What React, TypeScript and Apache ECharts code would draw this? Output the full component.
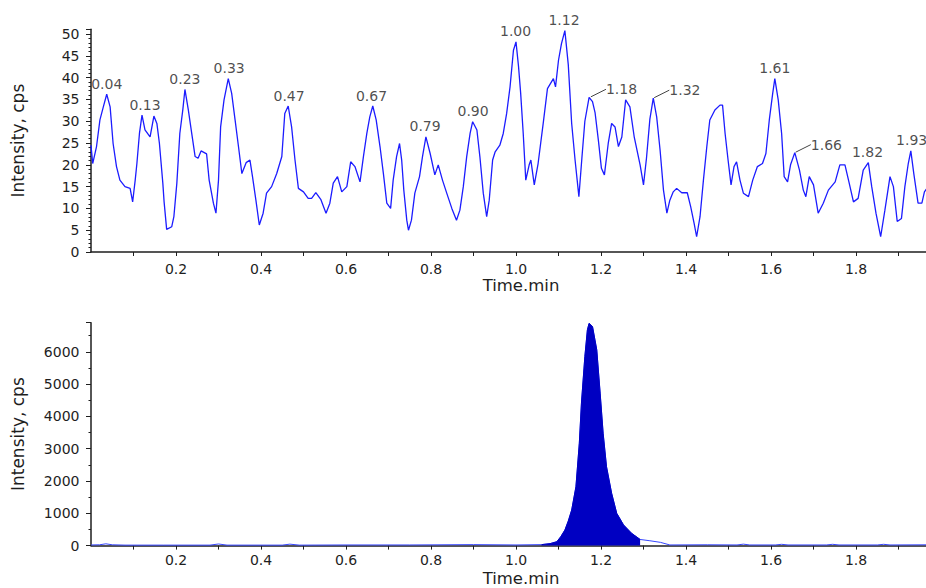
import React, { useEffect, useRef } from "react";
import * as echarts from "echarts";

// ---- Top trace (noise chromatogram) ----
const topTimes = [
  0.0, 0.004, 0.013, 0.021, 0.029, 0.037, 0.045, 0.052, 0.06, 0.068, 0.08, 0.092, 0.098, 0.104, 0.108, 0.114,
  0.12, 0.127, 0.139, 0.148, 0.155, 0.161, 0.169, 0.172, 0.178, 0.19, 0.195, 0.202, 0.209, 0.216, 0.221, 0.229,
  0.237, 0.245, 0.252, 0.259, 0.272, 0.278, 0.288, 0.294, 0.3, 0.305, 0.313, 0.323, 0.331, 0.339, 0.347, 0.355,
  0.365, 0.374, 0.38, 0.388, 0.396, 0.405, 0.413, 0.425, 0.437, 0.449, 0.456, 0.464, 0.472, 0.48, 0.488, 0.5,
  0.511, 0.519, 0.529, 0.541, 0.553, 0.562, 0.57, 0.58, 0.59, 0.602, 0.611, 0.621, 0.633, 0.641, 0.649, 0.656,
  0.663, 0.671, 0.68, 0.688, 0.696, 0.705, 0.711, 0.719, 0.726, 0.731, 0.736, 0.743, 0.747, 0.754, 0.762, 0.773,
  0.78, 0.788, 0.798, 0.809, 0.817, 0.827, 0.837, 0.849, 0.86, 0.868, 0.876, 0.884, 0.892, 0.898, 0.908, 0.915,
  0.923, 0.931, 0.937, 0.945, 0.951, 0.962, 0.97, 0.978, 0.986, 0.994, 1.0, 1.006, 1.011, 1.017, 1.023, 1.031,
  1.035, 1.043, 1.052, 1.064, 1.074, 1.088, 1.093, 1.1, 1.107, 1.115, 1.123, 1.131, 1.139, 1.148, 1.155, 1.162,
  1.172, 1.18, 1.186, 1.194, 1.201, 1.208, 1.217, 1.225, 1.233, 1.241, 1.249, 1.258, 1.268, 1.278, 1.292, 1.3,
  1.307, 1.315, 1.323, 1.331, 1.339, 1.347, 1.355, 1.362, 1.37, 1.378, 1.39, 1.403, 1.411, 1.419, 1.425, 1.433,
  1.441, 1.449, 1.456, 1.468, 1.48, 1.486, 1.492, 1.499, 1.506, 1.513, 1.519, 1.527, 1.535, 1.547, 1.557, 1.568,
  1.58, 1.588, 1.596, 1.604, 1.609, 1.617, 1.625, 1.631, 1.639, 1.646, 1.656, 1.667, 1.676, 1.682, 1.69, 1.7,
  1.711, 1.723, 1.735, 1.751, 1.762, 1.774, 1.784, 1.794, 1.805, 1.817, 1.829, 1.837, 1.847, 1.858, 1.868, 1.88,
  1.888, 1.897, 1.907, 1.915, 1.923, 1.929, 1.936, 1.946, 1.955, 1.961, 1.97,
];
const topValues = [
  24.5, 20.3, 24.2, 30.3, 33.3, 36.2, 33.3, 24.9, 19.6, 16.5, 15.0, 14.6, 11.5, 16.5, 20.3, 27.2,
  31.4, 28.0, 26.4, 31.2, 29.5, 24.9, 15.8, 11.5, 5.2, 5.8, 8.1, 15.8, 27.2, 32.6, 37.3, 32.6,
  27.2, 21.9, 21.5, 23.2, 22.5, 16.5, 11.2, 8.9, 16.5, 28.7, 34.9, 39.8, 36.4, 30.3, 24.2, 18.0,
  20.5, 21.1, 17.3, 11.9, 6.2, 8.9, 13.5, 15.0, 18.0, 21.9, 31.8, 33.5, 28.7, 21.1, 14.6, 13.8,
  12.3, 12.3, 13.6, 12.0, 8.9, 11.2, 15.8, 17.3, 13.8, 15.0, 20.7, 19.6, 16.1, 21.9, 27.2, 31.0,
  33.5, 30.3, 24.2, 18.0, 11.2, 10.0, 16.5, 21.9, 24.9, 21.1, 14.2, 7.3, 5.0, 7.3, 13.5, 17.3,
  21.9, 26.4, 22.6, 17.7, 20.0, 16.5, 13.5, 10.0, 7.3, 9.6, 15.0, 21.9, 27.2, 29.9, 28.0, 21.9,
  13.5, 8.1, 11.9, 21.1, 23.0, 24.5, 27.2, 31.8, 37.9, 46.3, 48.2, 42.5, 36.4, 27.2, 16.5, 20.0,
  21.1, 15.4, 20.3, 29.5, 37.5, 39.8, 37.9, 44.0, 47.8, 50.8, 43.0, 29.5, 21.1, 12.7, 21.5, 30.0,
  35.5, 34.5, 32.0, 25.5, 19.2, 17.7, 24.9, 29.5, 28.7, 24.2, 26.4, 34.9, 33.3, 26.5, 20.0, 15.4,
  21.5, 30.5, 35.3, 31.0, 23.4, 14.2, 8.9, 11.9, 13.8, 14.6, 13.6, 13.6, 10.4, 6.6, 3.5, 8.1,
  16.5, 24.2, 30.3, 32.6, 33.7, 33.7, 27.2, 21.1, 15.4, 19.6, 20.7, 16.5, 13.5, 12.7, 16.5, 19.6,
  20.3, 22.6, 30.3, 36.4, 39.8, 34.9, 27.2, 17.3, 16.1, 20.0, 22.8, 18.8, 14.2, 12.7, 17.3, 15.4,
  8.9, 11.2, 14.2, 16.1, 20.0, 20.0, 15.8, 11.5, 12.3, 18.8, 20.5, 15.0, 8.9, 3.5, 9.6, 17.3,
  15.0, 7.0, 7.7, 15.0, 20.3, 23.2, 18.0, 11.2, 11.2, 13.8, 15.0,
];

// ---- Peak annotations on the top trace ----
const peakLabels = ["0.04", "0.13", "0.23", "0.33", "0.47", "0.67", "0.79", "0.90", "1.00", "1.12", "1.61", "1.82", "1.93"];
const peakTimes = [0.037, 0.127, 0.221, 0.325, 0.466, 0.66, 0.786, 0.899, 0.999, 1.113, 1.609, 1.827, 1.931];
const peakHeights = [36.2, 31.4, 37.3, 39.8, 33.5, 33.5, 26.4, 29.9, 48.2, 50.8, 39.8, 20.5, 23.2];

const leaderLabels = ["1.18", "1.32", "1.66"];
const leaderTimes = [1.174, 1.323, 1.656];
const leaderHeights = [35.5, 35.3, 22.8];

// ---- Bottom trace (analyte chromatogram) ----
const bottomTimes = [
  0.0, 0.02, 0.035, 0.05, 0.08, 0.17, 0.28, 0.3, 0.32, 0.45, 0.468, 0.49, 0.6, 0.75, 0.9, 1.0,
  1.06, 1.08, 1.096, 1.105, 1.115, 1.123, 1.131, 1.141, 1.149, 1.154, 1.162, 1.168, 1.172, 1.18, 1.19,
  1.198, 1.205, 1.213, 1.225, 1.237, 1.253, 1.272, 1.292, 1.315, 1.34, 1.362, 1.45, 1.52, 1.535, 1.55,
  1.61, 1.625, 1.64, 1.73, 1.745, 1.76, 1.85, 1.865, 1.88, 1.97,
];
const bottomValues = [
  20, 25, 55, 25, 15, 15, 15, 50, 15, 15, 45, 15, 20, 20, 30, 20,
  30, 60, 120, 270, 480, 760, 1100, 1820, 3170, 4410, 5850, 6680, 6880, 6780, 6060,
  4720, 3480, 2440, 1620, 1000, 640, 380, 190, 150, 100, 20, 25, 20, 45, 20,
  20, 40, 20, 20, 40, 20, 20, 40, 20, 25,
];
const peakWindow = [1.06, 1.295];

const FONT = "DejaVu Sans";
const INK = "#1e1e1e";
const X_MAX = 835 / 425;

export default function App() {
  const ref = useRef<HTMLDivElement>(null);

  useEffect(() => {
    if (!ref.current) return;
    const chart = echarts.init(ref.current, undefined, { renderer: "svg" });

    const xLabel = (v: number) => {
      const k = Math.round(v * 10);
      return k > 0 && k % 2 === 0 ? (k / 10).toFixed(1) : "";
    };

    const makeX = (gi: number, margin: number, gap: number) => ({
      type: "value",
      gridIndex: gi,
      min: 0,
      max: X_MAX,
      interval: 0.1,
      axisLine: { show: true, onZero: false, lineStyle: { color: INK, width: 1.5 } },
      axisTick: { show: true, length: 4, lineStyle: { color: INK, width: 1 } },
      splitLine: { show: false },
      axisLabel: {
        formatter: xLabel,
        margin,
        fontSize: 14,
        color: INK,
        fontFamily: FONT,
        showMinLabel: false,
        showMaxLabel: false,
      },
      name: "Time.min",
      nameLocation: "middle",
      nameGap: gap,
      nameTextStyle: { fontSize: 16.5, color: INK, fontFamily: FONT, padding: [0, 0, 0, 25] },
    });

    const makeY = (gi: number, max: number, interval: number, minorSplit: number) => ({
      type: "value",
      gridIndex: gi,
      min: 0,
      max,
      interval,
      offset: 1.5,
      axisLine: { show: true, lineStyle: { color: INK, width: 1.5 } },
      axisTick: { show: true, length: 5, lineStyle: { color: INK, width: 1 } },
      minorTick: { show: true, splitNumber: minorSplit, length: 2.5, lineStyle: { color: INK, width: 1 } },
      splitLine: { show: false },
      minorSplitLine: { show: false },
      axisLabel: {
        margin: 10,
        fontSize: 14,
        color: INK,
        fontFamily: FONT,
        showMaxLabel: false,
        formatter: (v: number) => String(v),
      },
      name: "Intensity, cps",
      nameLocation: "middle",
      nameGap: 63,
      nameTextStyle: { fontSize: 17, color: INK, fontFamily: FONT },
    });

    const topData = topTimes.map((t, i) => [t, topValues[i]]);
    const bottomData = bottomTimes.map((t, i) => [t, bottomValues[i]]);
    const fillData = bottomData.filter((d) => d[0] >= peakWindow[0] && d[0] <= peakWindow[1]);

    const option: any = {
      animation: false,
      textStyle: { fontFamily: FONT },
      grid: [
        { left: 91, right: 0, top: 29.3, height: 222.7 },
        { left: 91, right: 0, top: 322.7, height: 222.9 },
      ],
      xAxis: [makeX(0, 10, 25), makeX(1, 7, 24)],
      yAxis: [makeY(0, 51.1, 5, 5), makeY(1, 6900, 1000, 2)],
      series: [
        {
          type: "line",
          xAxisIndex: 0,
          yAxisIndex: 0,
          data: topData,
          symbol: "none",
          lineStyle: { color: "#1c1cff", width: 1.3 },
          z: 3,
        },
        {
          type: "scatter",
          xAxisIndex: 0,
          yAxisIndex: 0,
          symbolSize: 1,
          itemStyle: { color: "rgba(0,0,0,0)" },
          data: peakTimes.map((t, i) => ({ value: [t, peakHeights[i]], name: peakLabels[i] })),
          label: {
            show: true,
            position: "top",
            distance: 3,
            formatter: (p: any) => p.name,
            fontSize: 14,
            color: INK,
            fontFamily: FONT,
          },
          z: 4,
        },
        {
          type: "scatter",
          xAxisIndex: 0,
          yAxisIndex: 0,
          symbolSize: 2,
          itemStyle: { color: "rgba(0,0,0,0)" },
          data: leaderTimes.map((t, i) => ({ value: [t, leaderHeights[i]], name: leaderLabels[i] })),
          label: {
            show: true,
            position: "right",
            distance: 4,
            formatter: (p: any) => p.name,
            fontSize: 14,
            color: INK,
            fontFamily: FONT,
          },
          labelLayout: { dx: 11, dy: -8 },
          labelLine: { show: true, length2: 0, lineStyle: { color: "#444", width: 1 } },
          z: 4,
        },
        {
          type: "line",
          xAxisIndex: 1,
          yAxisIndex: 1,
          data: bottomData,
          symbol: "none",
          lineStyle: { color: "#3646ff", width: 1 },
          z: 3,
        },
        {
          type: "line",
          xAxisIndex: 1,
          yAxisIndex: 1,
          data: fillData,
          symbol: "none",
          lineStyle: { color: "#0000c2", width: 1 },
          areaStyle: { color: "#0000c2", opacity: 1 },
          z: 4,
        },
      ],
    };

    chart.setOption(option);
    return () => chart.dispose();
  }, []);

  return (
    <div
      ref={ref}
      style={{ position: "fixed", left: 0, top: 0, width: 926, height: 588, background: "#fff" }}
    />
  );
}
